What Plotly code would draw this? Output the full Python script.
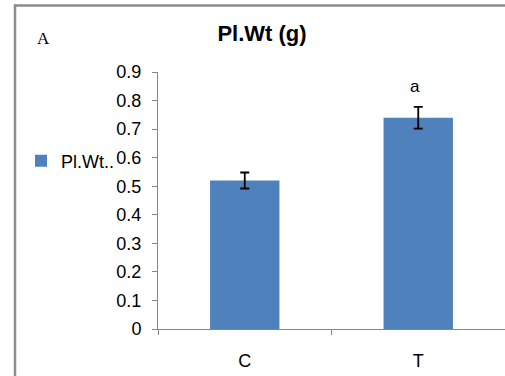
import plotly.graph_objects as go

categories = ["C", "T"]
values = [0.52, 0.74]
errors = [0.028, 0.038]
y_ticks = [0, 0.1, 0.2, 0.3, 0.4, 0.5, 0.6, 0.7, 0.8, 0.9]
y_tick_labels = ["0", "0.1", "0.2", "0.3", "0.4", "0.5", "0.6", "0.7", "0.8", "0.9"]
sig_labels = ["", "a"]
series_name = "Pl.Wt.."
title_text = "Pl.Wt (g)"
panel_label = "A"

blue = "#4F81BD"
axis_grey = "#868686"
W, H = 505, 376
L, R, T, B = 158, 0, 72, 47
pw, ph = W - L - R, H - T - B

def px_x(x):
    return (x - L) / pw

def px_y(y):
    return (H - B - y) / ph

fig = go.Figure()
fig.add_trace(go.Bar(
    x=categories, y=values, name=series_name,
    marker=dict(color=blue, line=dict(width=0)),
    width=0.4,
    error_y=dict(type="data", array=errors, visible=True, color="black", thickness=1.8, width=4.5),
    showlegend=True,
))

for c, v, e, s in zip(categories, values, errors, sig_labels):
    if s:
        fig.add_annotation(x=c, y=v + e + 0.07, text=s, showarrow=False,
                           font=dict(family="Arial, Liberation Sans", size=17, color="black"),
                           xshift=-3)

fig.update_layout(
    width=W, height=H,
    margin=dict(l=L, r=R, t=T, b=B),
    paper_bgcolor="white", plot_bgcolor="white",
    font=dict(family="Arial, Liberation Sans", size=18, color="black"),
    title=dict(text="<b>" + title_text + "</b>", x=262 / W, xanchor="center",
               y=1 - 33 / H, yanchor="middle", font=dict(size=22)),
    showlegend=True,
    legend=dict(x=px_x(21), xanchor="left", y=px_y(161), yanchor="middle",
                font=dict(size=18), itemwidth=30, bgcolor="rgba(0,0,0,0)",
                tracegroupgap=0),
    bargap=0.6,
    xaxis=dict(type="category", range=[-0.5, 1.5], showline=True, linecolor=axis_grey, linewidth=1,
               ticks="outside", tickson="boundaries", ticklen=5, tickcolor=axis_grey,
               showgrid=False, zeroline=False, ticklabelstandoff=15),
    yaxis=dict(range=[0, 0.9], tickvals=y_ticks, ticktext=y_tick_labels, showline=True,
               linecolor=axis_grey, linewidth=1, ticks="outside", ticklen=5, tickcolor=axis_grey,
               showgrid=False, zeroline=False, ticklabelstandoff=7),
)

fig.add_annotation(xref="paper", yref="paper", x=px_x(43), y=px_y(38),
                   text=panel_label, showarrow=False, xanchor="center", yanchor="middle",
                   font=dict(family="Liberation Serif, Times New Roman, serif", size=17, color="black"))

# outer frame (top and left edges visible)
fig.add_shape(type="line", xref="paper", yref="paper", x0=px_x(14), x1=px_x(W + 5),
              y0=px_y(5.5), y1=px_y(5.5), line=dict(color="#8c8c8c", width=2.5))
fig.add_shape(type="line", xref="paper", yref="paper", x0=px_x(15), x1=px_x(15),
              y0=px_y(4.5), y1=px_y(H + 5), line=dict(color="#8c8c8c", width=2.5))

fig.write_html("out.html", config={"displayModeBar": False},
               post_script="document.body.style.margin='0px';")
